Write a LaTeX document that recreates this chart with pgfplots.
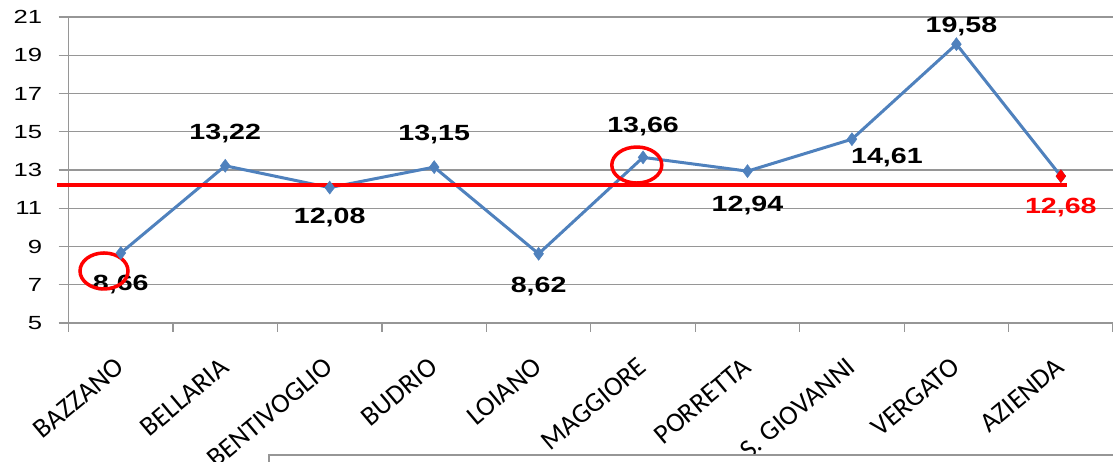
\documentclass[border=0pt]{standalone}
\usepackage{pgfplots}
\pgfplotsset{compat=1.18}
\usepackage{fontspec}
\setmainfont{Liberation Sans}
\newfontfamily\lab[FakeStretch=1.3]{Liberation Sans}
\newfontfamily\tlab[FakeStretch=1.35]{Liberation Sans}
\newfontfamily\cat{Carlito}
\definecolor{exblue}{RGB}{79,129,189}
\definecolor{exred}{RGB}{255,0,0}
\definecolor{gridgray}{RGB}{150,150,150}
\begin{document}
\begin{tikzpicture}[x=1pt,y=1pt]
\useasboundingbox (0,0) rectangle (1113,462);
\begin{axis}[
  at={(68.6pt,139pt)}, anchor=south west,
  scale only axis, width=1044.5pt, height=306pt,
  xmin=-0.5, xmax=9.5, ymin=5, ymax=21,
  axis x line*=bottom, axis y line*=left,
  axis line style={draw=gridgray, line width=1.2pt, -},
  ytick={5,7,...,21},
  ymajorgrids, grid style={gridgray, line width=1.2pt},
  tick align=outside, major tick length=10pt,
  ytick style={draw=gridgray, line width=1.2pt},
  xtick={0,...,9},
  xticklabels={BAZZANO,BELLARIA,BENTIVOGLIO,BUDRIO,LOIANO,MAGGIORE,PORRETTA,S. GIOVANNI,VERGATO,AZIENDA},
  xtick style={draw=none},
  extra x ticks={-0.5,0.5,...,9.5},
  extra x tick labels={},
  extra x tick style={grid=none, xtick style={draw=gridgray, line width=1.2pt}, major tick length=9pt},
  /pgf/number format/assume math mode=true,
  yticklabel style={font=\tlab\fontsize{19}{21}\selectfont, anchor=east, xshift=-13pt},
  xticklabel style={font=\cat\fontsize{27.5}{29}\selectfont, yshift=-28pt, xshift=2pt, rotate=40, anchor=east},
  clip=false,
]
\addplot[exblue, line width=3pt, mark=diamond*, mark size=6.5pt, mark options={fill=exblue, draw=exblue, line width=0.5pt}]
  coordinates {(0,8.66) (1,13.22) (2,12.08) (3,13.15) (4,8.62) (5,13.66) (6,12.94) (7,14.61) (8,19.58) (9,12.68)};
\addplot[exred, only marks, mark=diamond*, mark size=6.5pt, mark options={fill=exred, draw=exred}]
  coordinates {(9,12.68)};
\addplot[exred, line width=3.5pt] coordinates {(-0.611,12.22) (9.06,12.22)};
\begin{scope}[every node/.style={font=\lab\fontsize{22}{24}\selectfont\bfseries, inner sep=0pt}]
\node[yshift=-32pt] at (axis cs:0,8.66) {8,66};
\node[yshift=32pt] at (axis cs:1,13.22) {13,22};
\node[yshift=-30pt] at (axis cs:2,12.08) {12,08};
\node[yshift=33pt] at (axis cs:3,13.15) {13,15};
\node[yshift=-33pt] at (axis cs:4,8.62) {8,62};
\node[yshift=31pt] at (axis cs:5,13.66) {13,66};
\node[yshift=-34pt] at (axis cs:6,12.94) {12,94};
\node[xshift=35pt, yshift=-18pt] at (axis cs:7,14.61) {14,61};
\node[xshift=5pt, yshift=18pt] at (axis cs:8,19.58) {19,58};
\node[yshift=-31pt, text=exred] at (axis cs:9,12.68) {12,68};
\end{scope}
\draw[exred, line width=3.5pt] (axis cs:-0.161,7.72) ellipse [x radius=24pt, y radius=18pt];
\draw[exred, line width=3.5pt] (axis cs:4.94,13.26) ellipse [x radius=25pt, y radius=18pt];
\end{axis}
\draw[gridgray, line width=1.5pt, fill=white] (269,-10) rectangle (1125,7);
\end{tikzpicture}
\end{document}
